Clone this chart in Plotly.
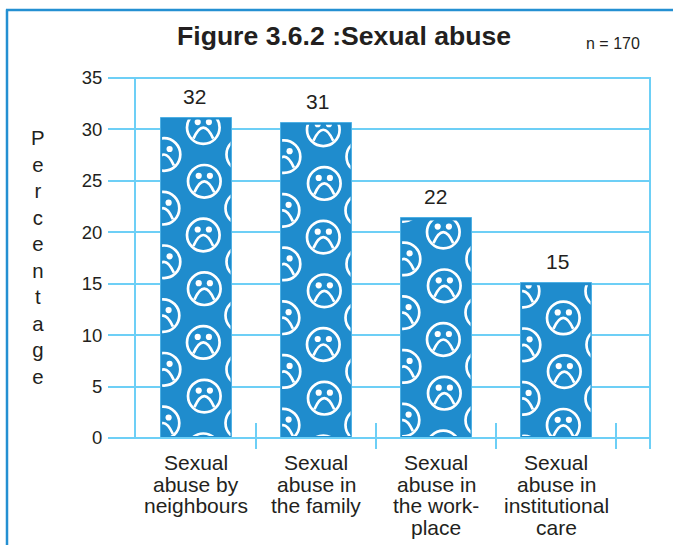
import base64
import plotly.graph_objects as go

categories = [
    "Sexual\nabuse by\nneighbours",
    "Sexual\nabuse in\nthe family",
    "Sexual\nabuse in\nthe work-\nplace",
    "Sexual\nabuse in\ninstitutional\ncare",
]
bar_heights = [31.15, 30.65, 21.35, 15.05]
value_labels = ["32", "31", "22", "15"]
y_ticks = [0, 5, 10, 15, 20, 25, 30, 35]
y_title = "Percentage"
title_text = "Figure 3.6.2 :Sexual abuse"
n_text = "n = 170"

W, H = 673, 545
L, R, T, B = 136, 23, 78, 107
PW, PH = W - L - R, H - T - B
XMAX = -0.5 + PW / 120
BAR_W = 71 / 120
PX_PER_UNIT = PH / 35
BLUE = "#1f8ccd"
LIGHT = "#6dcff6"
FRAME = "#2490d2"
INK = "#231f20"
FONT = "Liberation Sans, Arial, sans-serif"

# vertical phase of the sad-face wallpaper, measured from the top of each bar (px)
pattern_phase = [10.0, 7.0, 13.7, 34.7]
PITCH = 53.7


def face(cx, cy):
    return (
        f'<g transform="translate({cx:.1f} {cy:.1f})">'
        '<circle r="16.3" fill="none" stroke="#fff" stroke-width="2.7"/>'
        '<circle cx="-5.6" cy="-5.5" r="3.1" fill="#fff"/>'
        '<circle cx="5.6" cy="-5.5" r="3.1" fill="#fff"/>'
        '<path d="M-9.9 11 Q0 -11 9.9 11" fill="none" stroke="#fff" stroke-width="2.7"/>'
        "</g>"
    )


def wallpaper(width, height, phase):
    parts = []
    for k in range(-2, 9):
        wob = 0.5 if k % 2 else -0.5
        cy = phase + k * PITCH
        parts.append(face(43.3 + wob, cy))
        parts.append(face(3.0 - wob, cy + PITCH / 2))
        parts.append(face(81.8 - wob, cy + PITCH / 2))
    svg = (
        f'<svg xmlns="http://www.w3.org/2000/svg" width="{width}" height="{height:.1f}" '
        f'viewBox="0 0 {width} {height:.1f}" preserveAspectRatio="none">'
        f'<defs><clipPath id="c"><rect x="1.6" y="2" width="{width - 2.6}" height="{height - 4:.1f}"/></clipPath></defs>'
        '<g clip-path="url(#c)">' + "".join(parts) + "</g></svg>"
    )
    return "data:image/svg+xml;base64," + base64.b64encode(svg.encode()).decode()


x_pos = list(range(len(categories)))
fig = go.Figure(
    go.Bar(
        x=x_pos,
        y=bar_heights,
        width=BAR_W,
        marker=dict(color=BLUE, line=dict(color="#4fb0e4", width=1)),
        hoverinfo="skip",
    )
)

images = []
for i, v in enumerate(bar_heights):
    images.append(
        dict(
            source=wallpaper(71, v * PX_PER_UNIT, pattern_phase[i]),
            xref="x", yref="y", x=i - BAR_W / 2, y=v,
            sizex=BAR_W, sizey=v, sizing="stretch",
            xanchor="left", yanchor="top", layer="above",
        )
    )


def py(px):
    return (H - B - px) / PH


def pxx(px):
    return (px - L) / PW


ann = []
for i, v in enumerate(bar_heights):
    ann.append(dict(x=i, y=v, xref="x", yref="y", text=value_labels[i], showarrow=False,
                    xanchor="center", yanchor="bottom", yshift=8, xshift=[-2, 1, -1, 1][i],
                    font=dict(family=FONT, size=21, color=INK)))
for i, c in enumerate(categories):
    for j, line in enumerate(c.split("\n")):
        ann.append(dict(x=i, y=py(462.5 + j * 21.5), xref="x", yref="paper", text=line,
                        showarrow=False, xanchor="center", yanchor="middle",
                        font=dict(family=FONT, size=21, color=INK)))
ann.append(dict(x=pxx(38), y=py(257), xref="paper", yref="paper", showarrow=False,
                text="<br>".join(y_title), xanchor="center", yanchor="middle", align="center",
                font=dict(family=FONT, size=20.4, color=INK)))
ann.append(dict(x=pxx(343.5), y=py(36), xref="paper", yref="paper", showarrow=False,
                text=f"<b>{title_text}</b>", xanchor="center", yanchor="middle",
                font=dict(family=FONT, size=26.6, color=INK)))
ann.append(dict(x=pxx(613), y=py(44), xref="paper", yref="paper", showarrow=False,
                text=n_text, xanchor="center", yanchor="middle",
                font=dict(family=FONT, size=16, color=INK)))

lw = dict(color=LIGHT, width=2)
shapes = [
    # outer frame: left and top rules only, the right side runs off the page
    dict(type="line", xref="paper", yref="paper", x0=pxx(7), x1=pxx(7), y0=py(9.5), y1=py(545),
         line=dict(color=FRAME, width=2.5)),
    dict(type="line", xref="paper", yref="paper", x0=pxx(6), x1=pxx(673), y0=py(10), y1=py(10),
         line=dict(color=FRAME, width=2.5)),
    # baseline over the bars and top rule
    dict(type="line", xref="paper", yref="paper", x0=pxx(109), x1=1, y0=0, y1=0, line=lw),
    dict(type="line", xref="paper", yref="paper", x0=pxx(109), x1=1, y0=1, y1=1, line=lw),
    # right rule runs down past the baseline
    dict(type="line", xref="paper", yref="paper", x0=1, x1=1, y0=py(77), y1=py(449), line=lw),
]
for i in range(len(categories)):
    shapes.append(dict(type="line", xref="x", yref="paper", x0=i + 0.5, x1=i + 0.5,
                       y0=py(423), y1=py(449), line=lw))

fig.update_layout(
    width=W, height=H, autosize=False,
    margin=dict(l=L, r=R, t=T, b=B, pad=0),
    paper_bgcolor="white", plot_bgcolor="white",
    showlegend=False, bargap=0,
    images=images, shapes=shapes, annotations=ann,
    xaxis=dict(range=[-0.5, XMAX], showgrid=False, zeroline=False, showticklabels=False,
               ticks="", showline=False, fixedrange=True),
    yaxis=dict(range=[0, 35], tickmode="array", tickvals=y_ticks,
               showgrid=True, gridcolor=LIGHT, gridwidth=2, zeroline=False,
               showline=True, linecolor=LIGHT, linewidth=2,
               ticks="outside", ticklen=26, tickwidth=2, tickcolor=LIGHT, ticklabelstandoff=2,
               tickfont=dict(family=FONT, size=18.5, color=INK), fixedrange=True),
)

fig.write_html("out.html", config={"displayModeBar": False},
               post_script="document.body.style.margin='0';document.body.style.overflow='hidden';")
